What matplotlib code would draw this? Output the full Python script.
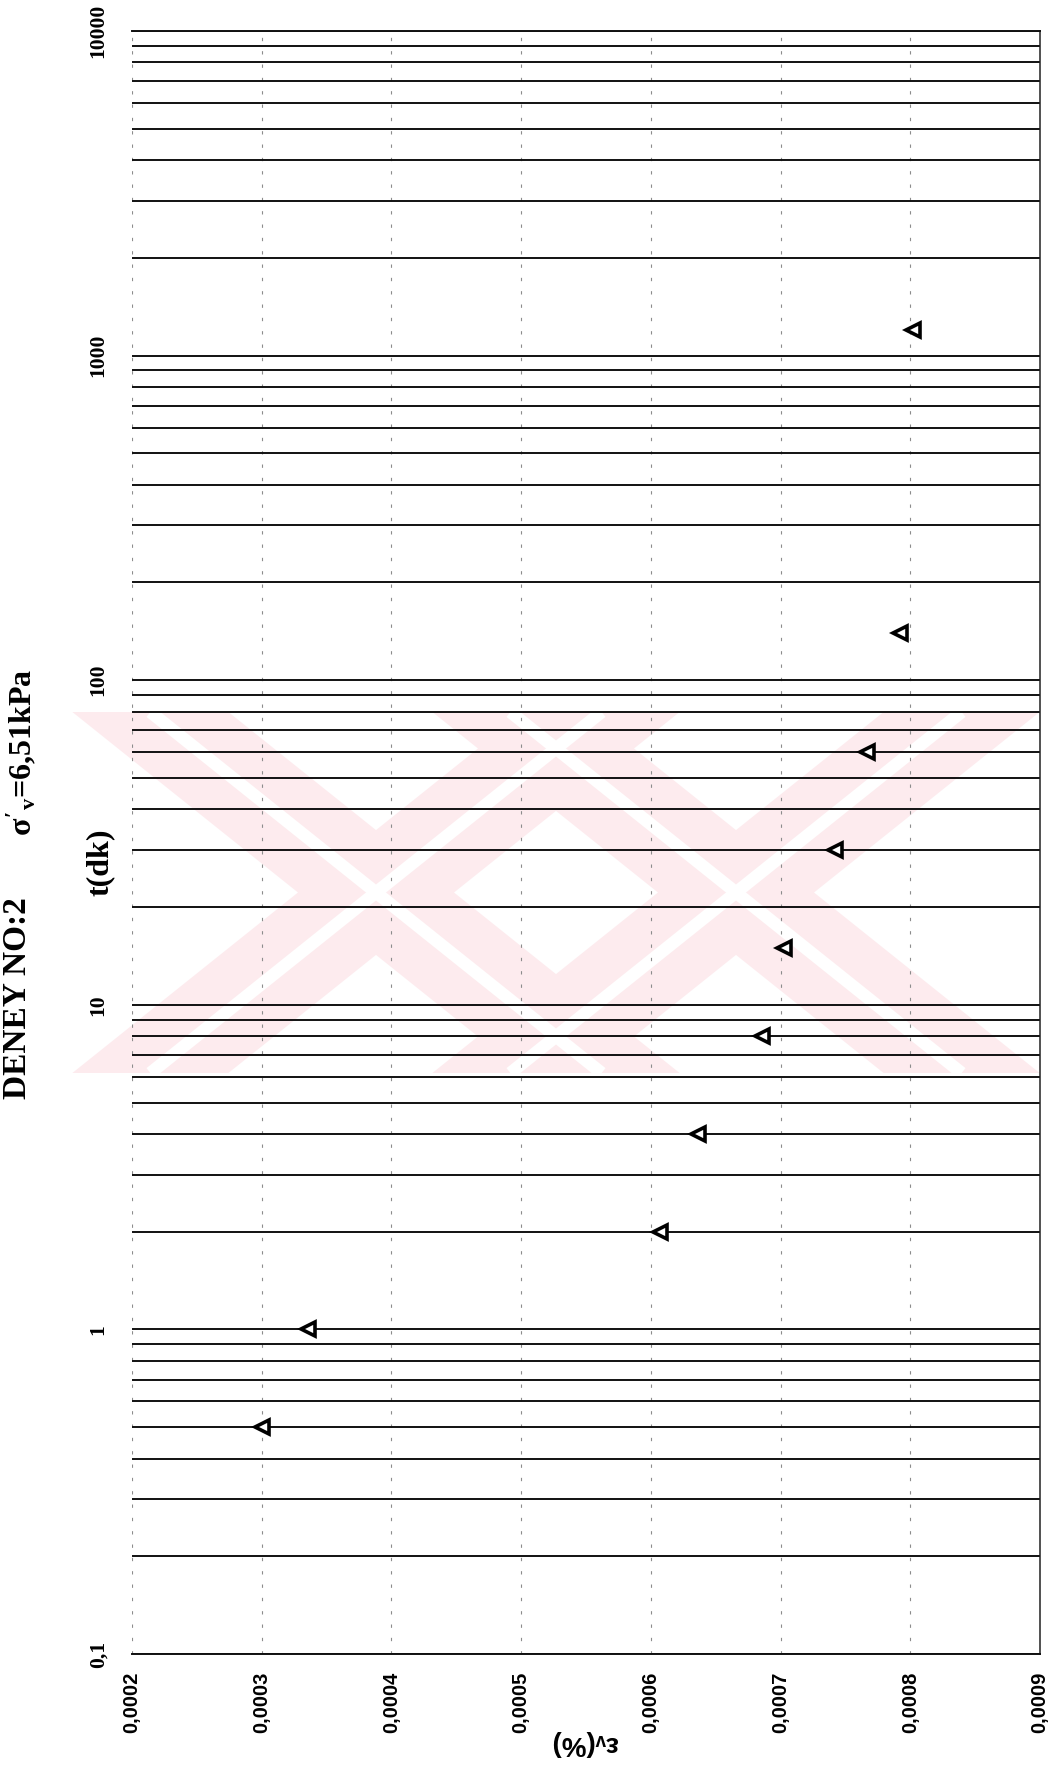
import numpy as np
import matplotlib
matplotlib.use("Agg")
import matplotlib.pyplot as plt
from matplotlib.patches import Polygon
from matplotlib.lines import Line2D
from matplotlib.ticker import LogLocator, NullFormatter

plt.rcParams['mathtext.fontset'] = 'custom'
plt.rcParams['mathtext.rm'] = 'Liberation Serif:bold'
plt.rcParams['mathtext.it'] = 'Liberation Serif:bold'
plt.rcParams['mathtext.bf'] = 'Liberation Serif:bold'

# okumalar (t dakika, birim deformasyon %)
T_MIN = [0.5, 1, 2, 4, 8, 15, 30, 60, 140, 1200]
EPS_V = [0.000300, 0.000336, 0.000607, 0.000636, 0.000686,
         0.000703, 0.000742, 0.000767, 0.000792, 0.000802]

T_TICKS = [0.1, 1, 10, 100, 1000, 10000]
T_LABELS = ['0,1', '1', '10', '100', '1000', '10000']
EPS_TICKS = [0.0002, 0.0003, 0.0004, 0.0005, 0.0006, 0.0007, 0.0008, 0.0009]
EPS_LABELS = ['0,0002', '0,0003', '0,0004', '0,0005', '0,0006', '0,0007', '0,0008', '0,0009']

TITLE = 'DENEY NO:2'
STRESS = r"$\sigma'_v$=6,51kPa"
T_LABEL = 't(dk)'
EPS_LABEL = 'εᵥ(%)'

W, H = 1054, 1770
SERIF = ['Liberation Serif', 'DejaVu Serif']
SANS = ['Liberation Sans', 'DejaVu Sans']


def fx(x):
    return x / W


def fy(y):
    return 1 - y / H


fig = plt.figure(figsize=(W / 100, H / 100), dpi=100)

# filigran (soluk pembe "XX")
PINK = '#fdebee'
top, bot = 712, 1073
h = (bot - top) / 2
s, w = 1.25, 78
for cx in (376, 736):
    for sign in (-1, 1):
        tc = cx + sign * s * h
        bc = cx - sign * s * h
        poly = Polygon([(fx(tc - w), fy(top)), (fx(tc + w), fy(top)),
                        (fx(bc + w), fy(bot)), (fx(bc - w), fy(bot))],
                       closed=True, transform=fig.transFigure, facecolor=PINK,
                       edgecolor='none', zorder=-5)
        fig.add_artist(poly)
for cx in (376, 736):
    for sign in (-1, 1):
        tc = cx + sign * s * h
        bc = cx - sign * s * h
        fig.add_artist(Line2D([fx(tc), fx(bc)], [fy(top), fy(bot)], transform=fig.transFigure,
                              color='white', lw=9, zorder=-4, solid_capstyle='butt'))

ax = fig.add_axes([fx(132), fy(1654), (1040 - 132) / W, (1654 - 31) / H])
ax.set_facecolor('none')
ax.set_yscale('log')
ax.set_ylim(0.1, 10000)
ax.set_xlim(0.0002, 0.0009)

ax.yaxis.set_minor_locator(LogLocator(base=10, subs=np.arange(2, 10)))
ax.yaxis.set_minor_formatter(NullFormatter())
ax.grid(axis='y', which='both', color='#111111', lw=1.4)
ax.grid(axis='x', which='major', color='0.55', lw=0.8, ls=(0, (3, 9)))

ax.set_yticks(T_TICKS)
ax.set_yticklabels(T_LABELS, rotation=90, va='center', family=SERIF,
                   fontweight='bold', fontsize=15.5)
ax.set_xticks(EPS_TICKS)
ax.set_xticklabels(EPS_LABELS, rotation=90, ha='center', va='top', family=SANS,
                   fontweight='bold', fontsize=14.5)
ax.tick_params(axis='both', which='both', length=0)
ax.tick_params(axis='y', pad=17)
ax.tick_params(axis='x', pad=13)

ax.spines['left'].set_visible(False)
ax.spines['right'].set_color('#222222')
ax.spines['right'].set_linewidth(1.1)
for side in ('top', 'bottom'):
    ax.spines[side].set_color('#111111')
    ax.spines[side].set_linewidth(1.4)

ax.plot(EPS_V, T_MIN, ls='none', marker='<', ms=10, mfc='white', mec='black',
        mew=2.6, zorder=5, clip_on=False)

fig.text(fx(100), fy(862), T_LABEL, rotation=90, ha='center', va='center',
         family=SERIF, fontweight='bold', fontsize=23)
fig.text(fx(584), fy(1743), EPS_LABEL, rotation=180, ha='center', va='center',
         family=SANS, fontweight='bold', fontsize=20)
fig.text(fx(18), fy(998), TITLE, rotation=90, ha='center', va='center',
         family=SERIF, fontweight='bold', fontsize=24)
fig.text(fx(22), fy(752), STRESS, rotation=90, ha='center', va='center',
         family=SERIF, fontweight='bold', fontsize=23)

fig.savefig('out.png', dpi=100)
